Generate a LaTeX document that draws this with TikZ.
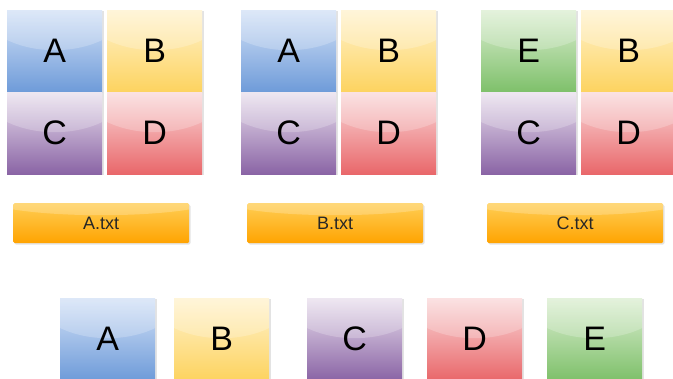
\documentclass[tikz,border=0pt]{standalone}
\usepackage{fontspec}
\setmainfont{Liberation Sans}
\usetikzlibrary{positioning, shadows}

% tile colours: top / bottom of each gradient
\definecolor{Atop}{HTML}{D4E2F7}  \definecolor{Abot}{HTML}{6E9BD9}
\definecolor{Btop}{HTML}{FFF3CF}  \definecolor{Bbot}{HTML}{FDD35F}
\definecolor{Ctop}{HTML}{EAE1EE}  \definecolor{Cbot}{HTML}{8A64A5}
\definecolor{Dtop}{HTML}{FADADB}  \definecolor{Dbot}{HTML}{E9676A}
\definecolor{Etop}{HTML}{DDEFD3}  \definecolor{Ebot}{HTML}{7EC06A}
\definecolor{barTop}{HTML}{FFCE55} \definecolor{barBot}{HTML}{FFA300}

\begin{document}
\begin{tikzpicture}[
  x=1pt, y=-1pt,
  tile/.style={minimum width=95pt, minimum height=82pt, inner sep=0pt,
               anchor=north west, text=black,
               font=\fontsize{34}{34}\selectfont,
               top color=#1top, bottom color=#1bot,
               drop shadow={shadow xshift=1.3pt, shadow yshift=-1.3pt,
                            opacity=0.22},
               path picture={\fill[white, opacity=0.22]
                 ([yshift=12pt]path picture bounding box.north)
                 ellipse [x radius=80pt, y radius=52pt];}},
  bar/.style={minimum width=176pt, minimum height=40pt, inner sep=0pt,
              anchor=north west, rounded corners=1.5pt, text=black!85,
              font=\fontsize{18}{18}\selectfont,
              top color=barTop, bottom color=barBot,
              drop shadow={shadow xshift=1.3pt, shadow yshift=-1.5pt,
                           opacity=0.22},
              path picture={\fill[white, opacity=0.22]
                ([yshift=6pt]path picture bounding box.north)
                ellipse [x radius=120pt, y radius=18pt];}},
]
\useasboundingbox (0,0) rectangle (673,379);
\clip (0,0) rectangle (673,379);

% three 2x2 layouts, each with its file bar underneath
\foreach \g/\dx/\first/\file in {1/0/A/A.txt, 2/234/A/B.txt, 3/474/E/C.txt}{
  \node[tile=\first] (g\g-tl) at (7+\dx,10) {\first};
  \node[tile=B]      (g\g-tr) at (107+\dx,10) {B};
  \node[tile=C]      (g\g-bl) at (7+\dx,92) {C};
  \node[tile=D]      (g\g-br) at (107+\dx,92) {D};
  \node[bar]         (file\g) at (13+\dx,203) {\file};
}

% the separate blocks
\foreach \l/\x in {A/60, B/174, C/307, D/427, E/547}
  \node[tile=\l] (blk\l) at (\x,298) {\l};

\end{tikzpicture}
\end{document}
